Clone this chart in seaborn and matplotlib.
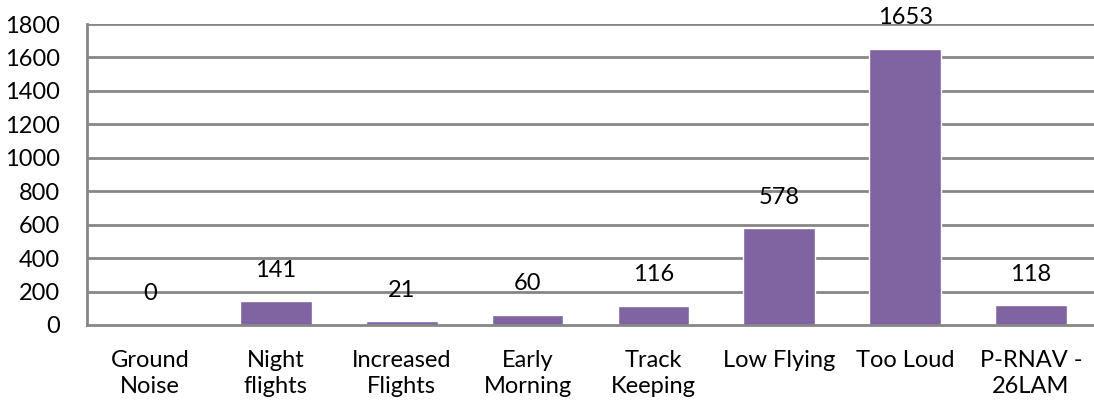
import matplotlib
matplotlib.use("Agg")
import matplotlib.pyplot as plt
import seaborn as sns
import pandas as pd

categories = ["Ground\nNoise", "Night\nflights", "Increased\nFlights", "Early\nMorning",
              "Track\nKeeping", "Low Flying", "Too Loud", "P-RNAV -\n26LAM"]
complaints = [0, 141, 21, 60, 116, 578, 1653, 118]
y_ticks = [0, 200, 400, 600, 800, 1000, 1200, 1400, 1600, 1800]

sns.set_theme(style="white")
plt.rcParams["font.family"] = ["Lato", "DejaVu Sans"]

df = pd.DataFrame({"category": categories, "count": complaints})

fig = plt.figure(figsize=(10.94, 4.07), dpi=100)
ax = fig.add_axes([0.0795, 0.2015, 0.9205, 0.7395])

fs = 17
grid_color = "#868686"
sns.barplot(data=df, x="category", y="count", color="#8064A2", saturation=1,
            width=0.57, ax=ax, zorder=3)

ax.set_ylim(0, 1800)
ax.set_xlim(-0.5, len(categories) - 0.5)
ax.set_yticks(y_ticks)
ax.set_yticklabels([str(v) for v in y_ticks], fontsize=fs, color="black")
ax.tick_params(axis="x", labelsize=fs, colors="black", length=0, pad=18)
ax.tick_params(axis="y", length=0, pad=19.5)
for lbl in ax.get_xticklabels():
    lbl.set_linespacing(1.32)
ax.set_xlabel("")
ax.set_ylabel("")

for y in y_ticks[1:]:
    ax.axhline(y, color=grid_color, linewidth=2, zorder=1)

for side in ["top", "right"]:
    ax.spines[side].set_visible(False)
for side in ["left", "bottom"]:
    ax.spines[side].set_color(grid_color)
    ax.spines[side].set_linewidth(2)
    ax.spines[side].set_zorder(4)

for i, v in enumerate(complaints):
    ax.annotate(str(v), xy=(i, v), xytext=(0, 22.5), textcoords="offset points",
                ha="center", va="center", fontsize=fs, color="black", zorder=5)

fig.savefig("out.png", dpi=100)
